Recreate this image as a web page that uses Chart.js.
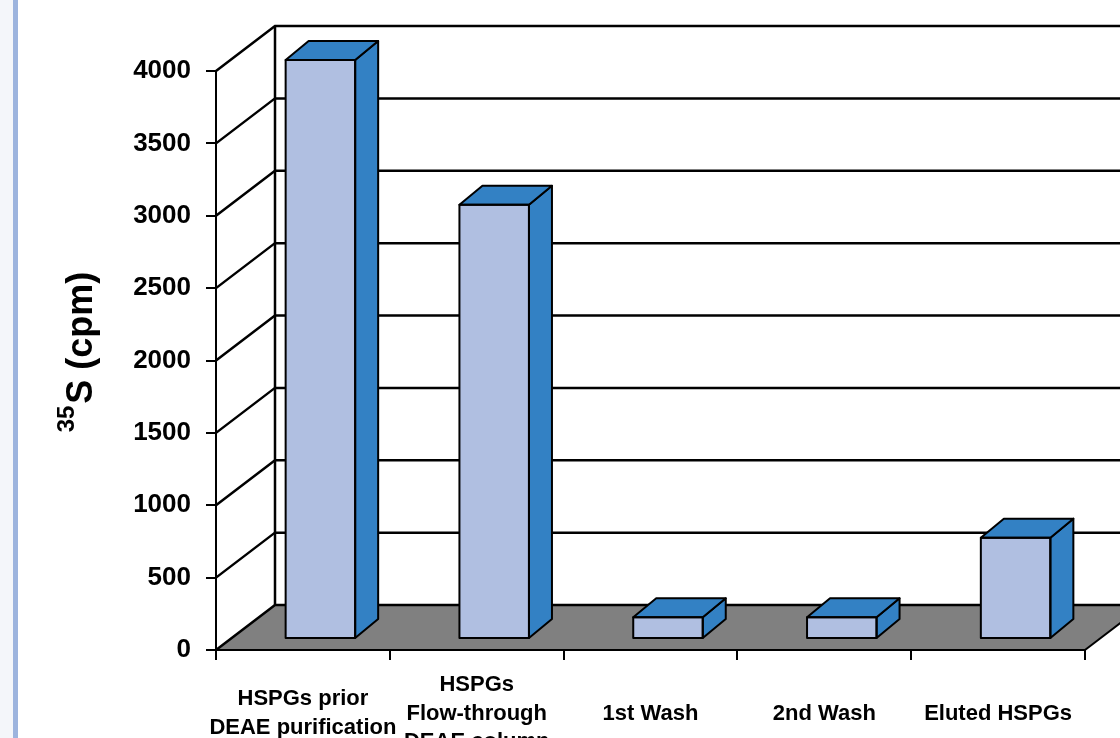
<!DOCTYPE html>
<html>
<head>
<meta charset="utf-8">
<script src="https://cdn.jsdelivr.net/npm/chart.js@4/dist/chart.umd.min.js"></script>
<style>
  html, body { margin: 0; padding: 0; background: #ffffff; }
  #wrap { position: relative; width: 1120px; height: 738px; overflow: hidden; }
  #edge { position: absolute; left: 0; top: 0; width: 13px; height: 738px; background: #f4f6fa; }
  #stripe { position: absolute; left: 13px; top: 0; width: 5px; height: 738px; background: #9db4de; }
  canvas { position: absolute; left: 0; top: 0; }
</style>
</head>
<body>
<div id="wrap">
  <div id="edge"></div>
  <div id="stripe"></div>
  <canvas id="c" width="1120" height="738"></canvas>
</div>
<script>
// ---- data ----
const categories = [
  ["HSPGs prior", "DEAE purification"],
  ["HSPGs", "Flow-through", "DEAE column"],
  "1st Wash",
  "2nd Wash",
  "Eluted HSPGs"
];
const cpmValues = [4000, 3000, 150, 150, 700];
const yMin = 0;
const yMax = 4000;
const yStep = 500;
const yTitleSup = "35";
const yTitleMain = "S (cpm)";

// ---- style constants ----
const FONT = '"Liberation Sans", Arial, sans-serif';
const FRONT = '#b0bfe1';
const SIDE = '#3381c4';
const FLOOR = '#808080';
const WALL_DX = 59, WALL_DY = -45;     // depth of back wall
const BAR_DX = 17.5, BAR_DY = -11;     // bar front-face position in depth
const BAR_OX = 23, BAR_OY = -19;       // bar depth

const threeD = {
  id: 'threeD',
  beforeDraw(chart) {
    const { ctx, chartArea: a, scales: { y } } = chart;
    const W = chart.width;
    ctx.save();
    // floor
    ctx.beginPath();
    ctx.moveTo(a.left, a.bottom);
    ctx.lineTo(a.right, a.bottom);
    ctx.lineTo(a.right + WALL_DX, a.bottom + WALL_DY);
    ctx.lineTo(a.left + WALL_DX, a.bottom + WALL_DY);
    ctx.closePath();
    ctx.fillStyle = FLOOR;
    ctx.fill();
    ctx.strokeStyle = '#000';
    ctx.lineWidth = 2;
    ctx.beginPath();
    ctx.moveTo(a.right, a.bottom);
    ctx.lineTo(a.right + WALL_DX, a.bottom + WALL_DY);
    ctx.stroke();
    // back wall grid + diagonals
    ctx.lineWidth = 2.5;
    y.ticks.forEach(t => {
      const py = y.getPixelForValue(t.value);
      ctx.beginPath();
      ctx.moveTo(a.left, py);
      ctx.lineTo(a.left + WALL_DX, py + WALL_DY);
      ctx.lineTo(W + 5, py + WALL_DY);
      ctx.stroke();
    });
    // back wall vertical
    ctx.beginPath();
    ctx.moveTo(a.left + WALL_DX, a.top + WALL_DY);
    ctx.lineTo(a.left + WALL_DX, a.bottom + WALL_DY);
    ctx.stroke();
    ctx.restore();
  },
  beforeDatasetsDraw(chart) {
    chart.ctx.save();
    chart.ctx.translate(BAR_DX, BAR_DY);
  },
  afterDatasetsDraw(chart) {
    const ctx = chart.ctx;
    const meta = chart.getDatasetMeta(0);
    ctx.lineWidth = 2;
    ctx.lineJoin = 'round';
    ctx.strokeStyle = '#000';
    ctx.fillStyle = SIDE;
    meta.data.forEach(bar => {
      const { x, y, base, width } = bar.getProps(['x', 'y', 'base', 'width'], true);
      const l = x - width / 2, r = x + width / 2;
      // side
      ctx.beginPath();
      ctx.moveTo(r, y);
      ctx.lineTo(r + BAR_OX, y + BAR_OY);
      ctx.lineTo(r + BAR_OX, base + BAR_OY);
      ctx.lineTo(r, base);
      ctx.closePath();
      ctx.fill();
      ctx.stroke();
      // top
      ctx.beginPath();
      ctx.moveTo(l, y);
      ctx.lineTo(l + BAR_OX, y + BAR_OY);
      ctx.lineTo(r + BAR_OX, y + BAR_OY);
      ctx.lineTo(r, y);
      ctx.closePath();
      ctx.fill();
      ctx.stroke();
      // front outline
      ctx.strokeRect(l, y, width, base - y);
    });
    ctx.restore();
  },
  afterDraw(chart) {
    const ctx = chart.ctx;
    ctx.save();
    ctx.translate(92, 352);
    ctx.rotate(-Math.PI / 2);
    ctx.fillStyle = '#000';
    ctx.textBaseline = 'alphabetic';
    const supFont = 'bold 24px ' + FONT;
    const mainFont = 'bold 36px ' + FONT;
    ctx.font = supFont;
    const ws = ctx.measureText(yTitleSup).width;
    ctx.font = mainFont;
    const wm = ctx.measureText(yTitleMain).width;
    const gap = 2;
    const total = ws + gap + wm;
    const x0 = -total / 2;
    ctx.font = supFont;
    ctx.fillText(yTitleSup, x0, -18);
    ctx.font = mainFont;
    ctx.fillText(yTitleMain, x0 + ws + gap, 0);
    ctx.restore();
  }
};

new Chart(document.getElementById('c'), {
  type: 'bar',
  data: {
    labels: categories,
    datasets: [{
      data: cpmValues,
      backgroundColor: FRONT,
      borderColor: '#000',
      borderWidth: 0,
      categoryPercentage: 0.4,
      barPercentage: 1,
      clip: false
    }]
  },
  options: {
    responsive: false,
    animation: false,
    events: [],
    layout: { padding: { left: 0, right: 35, top: 71, bottom: 0 } },
    plugins: { legend: { display: false }, tooltip: { enabled: false }, title: { display: false } },
    scales: {
      x: {
        type: 'category',
        offset: true,
        grid: { offset: true, drawOnChartArea: false, drawTicks: true, tickLength: 10, color: '#000', lineWidth: 2 },
        border: { display: true, color: '#000', width: 2 },
        ticks: {
          color: '#000',
          font: { family: FONT, size: 22, weight: 'bold', lineHeight: 1.3 },
          padding: 25,
          crossAlign: 'center',
          maxRotation: 0,
          minRotation: 0,
          autoSkip: false
        },
        afterFit(s) { s.height = 88; }
      },
      y: {
        min: yMin,
        max: yMax,
        grid: { drawOnChartArea: false, drawTicks: true, tickLength: 10, color: '#000', lineWidth: 2 },
        border: { display: true, color: '#000', width: 2 },
        ticks: {
          stepSize: yStep,
          color: '#000',
          padding: 15,
          font: { family: FONT, size: 26, weight: 'bold' },
          callback: v => String(v)
        },
        afterFit(s) { s.width = 216; }
      }
    }
  },
  plugins: [threeD]
});
</script>
</body>
</html>
